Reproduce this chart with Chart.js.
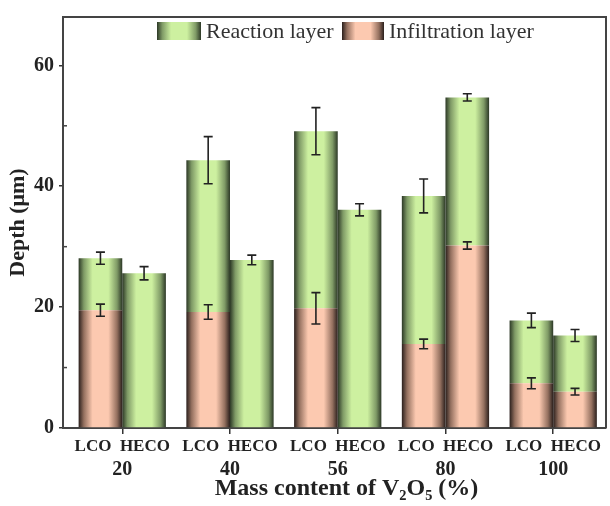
<!DOCTYPE html>
<html>
<head>
<meta charset="utf-8">
<script src="https://cdn.jsdelivr.net/npm/chart.js@4.4.1/dist/chart.umd.min.js"></script>
<style>
  html, body { margin: 0; padding: 0; background: #fff; }
  canvas { display: block; }
</style>
</head>
<body>
<canvas id="chart" width="610" height="506"></canvas>
<script>
const categories = ["20", "40", "56", "80", "100"];
const barNames = "LCO  HECO";
// depth in um: total = top of reaction layer, infil = top of infiltration layer
const lcoTotal = [28.1, 44.3, 49.1, 38.4, 17.8];
const lcoTotalErr = [1.0, 3.9, 3.9, 2.8, 1.2];
const lcoInfil = [19.5, 19.2, 19.8, 13.9, 7.4];
const lcoInfilErr = [1.0, 1.2, 2.6, 0.8, 0.9];
const hecoTotal = [25.6, 27.8, 36.1, 54.7, 15.3];
const hecoTotalErr = [1.1, 0.8, 1.0, 0.6, 1.0];
const hecoInfil = [null, null, null, 30.2, 6.0];
const hecoInfilErr = [null, null, null, 0.6, 0.55];
const yTicks = [0, 20, 40, 60];
const yMinor = [10, 30, 50];

const serif = "'Liberation Serif', 'Times New Roman', serif";
const groupPct = 0.81;
const green = ["#2c3826", "#7f9a66", "#cdf0a0"];
const pink = ["#2a1f1c", "#94705f", "#fcc9b0"];

function shade(ctx, left, w, col) {
  const g = ctx.createLinearGradient(left, 0, left + w, 0);
  g.addColorStop(0, col[0]);
  g.addColorStop(0.12, col[1]);
  g.addColorStop(0.32, col[2]);
  g.addColorStop(0.68, col[2]);
  g.addColorStop(0.88, col[1]);
  g.addColorStop(1, col[0]);
  return g;
}

function barFill(col) {
  return (c) => {
    const x = c.chart.scales.x;
    if (!x || c.dataIndex == null) return col[2];
    const unit = x.getPixelForValue(2) - x.getPixelForValue(1);
    const w = unit * groupPct / 2;
    const left = x.getPixelForValue(c.dataIndex + 1) - w + (c.dataset.stack === "HECO" ? w : 0);
    if (!isFinite(left) || !isFinite(w)) return col[2];
    return shade(c.chart.ctx, left, w, col);
  };
}

const pts = (arr) => arr.map((v, i) => ({ x: i + 1, y: v }));
const reaction = (tot, inf) => tot.map((v, i) => ({ x: i + 1, y: v - (inf[i] || 0) }));

const errorBars = {
  id: "errorBars",
  afterDatasetsDraw(chart) {
    const { ctx } = chart;
    const y = chart.scales.y;
    const sets = [
      [0, lcoInfil, lcoInfilErr], [1, lcoTotal, lcoTotalErr],
      [2, hecoInfil, hecoInfilErr], [3, hecoTotal, hecoTotalErr]
    ];
    ctx.save();
    ctx.strokeStyle = "#222";
    ctx.lineWidth = 1.6;
    sets.forEach(([d, vals, errs]) => {
      const meta = chart.getDatasetMeta(d);
      vals.forEach((v, i) => {
        if (v == null || errs[i] == null) return;
        const x = meta.data[i].x;
        const hi = y.getPixelForValue(v + errs[i]);
        const lo = y.getPixelForValue(v - errs[i]);
        ctx.beginPath();
        ctx.moveTo(x, hi); ctx.lineTo(x, lo);
        ctx.moveTo(x - 4.5, hi); ctx.lineTo(x + 4.5, hi);
        ctx.moveTo(x - 4.5, lo); ctx.lineTo(x + 4.5, lo);
        ctx.stroke();
      });
    });
    ctx.restore();
  }
};

const frame = {
  id: "frame",
  afterDraw(chart) {
    const { ctx, chartArea: a } = chart;
    const y = chart.scales.y;
    ctx.save();
    ctx.strokeStyle = "#444";
    ctx.lineWidth = 2;
    ctx.beginPath();
    ctx.moveTo(a.left, a.top); ctx.lineTo(a.right, a.top); ctx.lineTo(a.right, a.bottom);
    ctx.stroke();
    ctx.lineWidth = 1.5;
    yMinor.forEach((v) => {
      const py = y.getPixelForValue(v);
      ctx.beginPath();
      ctx.moveTo(a.left, py); ctx.lineTo(a.left + 4, py);
      ctx.stroke();
    });
    // legend
    const items = [
      { x: 157, w: 44, col: green, text: "Reaction layer", tx: 206 },
      { x: 342, w: 42, col: pink, text: "Infiltration layer", tx: 389 }
    ];
    ctx.font = "22px " + serif;
    ctx.textBaseline = "middle";
    items.forEach((it) => {
      ctx.fillStyle = shade(ctx, it.x, it.w, it.col);
      ctx.fillRect(it.x, 22, it.w, 18);
      ctx.fillStyle = "#333";
      ctx.fillText(it.text, it.tx, 32);
    });
    ctx.restore();
  }
};

const xPositions = categories.map((c, i) => ({ value: i + 1 }));

new Chart(document.getElementById("chart"), {
  type: "bar",
  data: {
    datasets: [
      { label: "Infiltration layer", stack: "LCO", data: pts(lcoInfil), backgroundColor: barFill(pink) },
      { label: "Reaction layer", stack: "LCO", data: reaction(lcoTotal, lcoInfil), backgroundColor: barFill(green) },
      { label: "Infiltration layer", stack: "HECO", data: pts(hecoInfil), backgroundColor: barFill(pink) },
      { label: "Reaction layer", stack: "HECO", data: reaction(hecoTotal, hecoInfil), backgroundColor: barFill(green) }
    ]
  },
  options: {
    responsive: false,
    animation: false,
    layout: { padding: { top: 10, right: 4, left: 0, bottom: 0 } },
    datasets: { bar: { categoryPercentage: groupPct, barPercentage: 1, borderWidth: 0 } },
    plugins: { legend: { display: false }, tooltip: { enabled: false } },
    scales: {
      x: {
        type: "linear",
        stacked: true,
        offset: false,
        min: 0.45,
        max: 5.49,
        weight: 0,
        afterBuildTicks: (s) => { s.ticks = xPositions.map((t) => ({ ...t })); },
        afterFit: (s) => { s.height = 30; },
        ticks: { callback: () => barNames, color: "#222", padding: 2, maxRotation: 0, font: { family: serif, size: 17, weight: "bold" } },
        grid: { drawOnChartArea: false, offset: false, tickLength: 6, color: "#333", lineWidth: 1.5 },
        border: { color: "#444", width: 2 }
      },
      x2: {
        type: "linear",
        position: "bottom",
        offset: false,
        min: 0.45,
        max: 5.49,
        weight: 1,
        afterBuildTicks: (s) => { s.ticks = xPositions.map((t) => ({ ...t })); },
        afterFit: (s) => { s.height = 48; },
        ticks: { callback: (v, i) => categories[i], color: "#222", padding: 0, maxRotation: 0, font: { family: serif, size: 20, weight: "bold" } },
        grid: { display: false, drawTicks: false },
        border: { display: false },
        title: { display: true, text: "    Mass content of V₂O₅ (%)", color: "#222", padding: { top: 0, bottom: 3 }, font: { family: serif, size: 24, weight: "bold" } }
      },
      y: {
        stacked: true,
        min: 0,
        max: 68,
        afterBuildTicks: (s) => { s.ticks = yTicks.map((v) => ({ value: v })); },
        afterFit: (s) => { s.width = 63; },
        ticks: { color: "#222", padding: 5, font: { family: serif, size: 20, weight: "bold" } },
        grid: { drawOnChartArea: false, tickLength: 4, color: "#333", lineWidth: 1.5 },
        border: { color: "#444", width: 2 },
        title: { display: true, text: "Depth (μm)", color: "#222", padding: { top: 5, bottom: 0 }, font: { family: serif, size: 22, weight: "bold" } }
      }
    }
  },
  plugins: [errorBars, frame]
});
</script>
</body>
</html>
